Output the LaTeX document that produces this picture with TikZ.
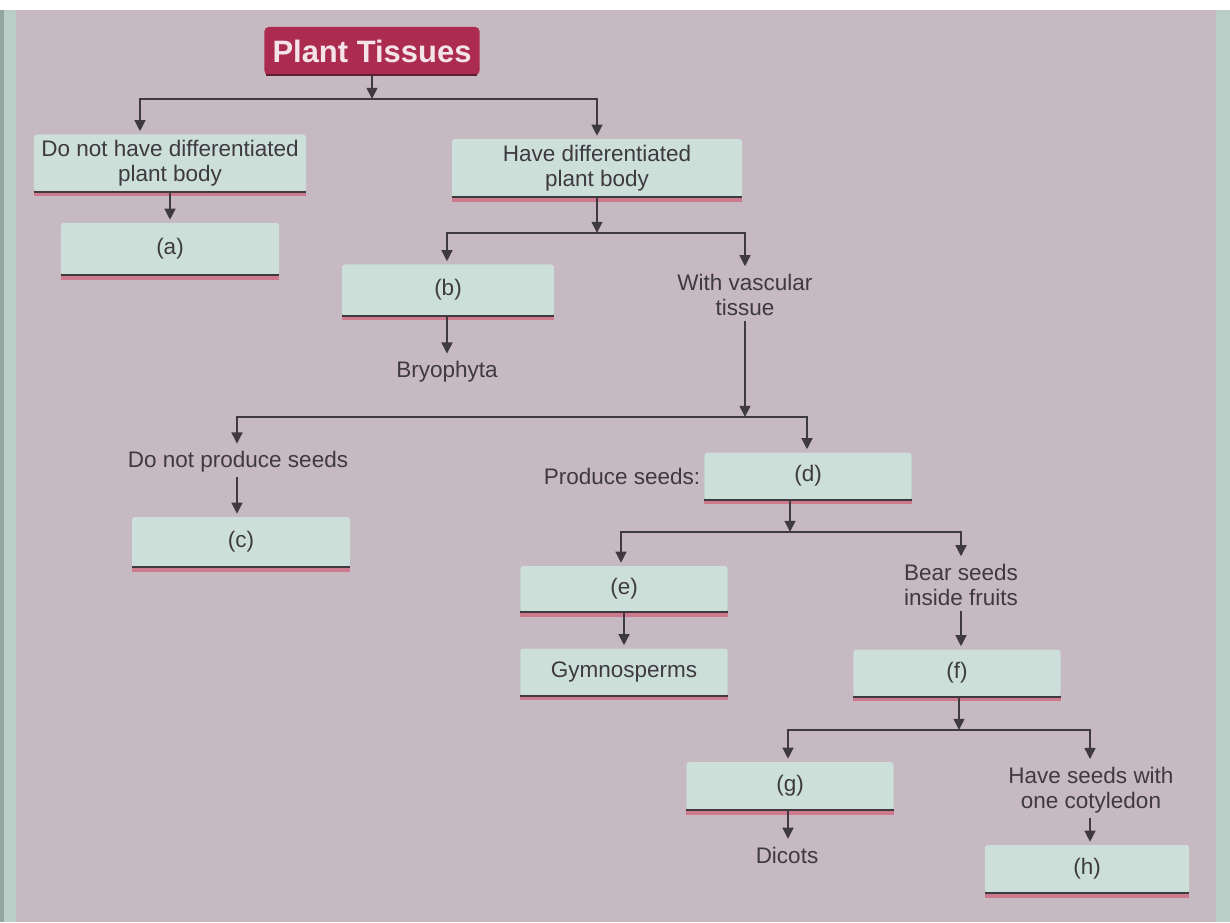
\documentclass[tikz,border=0pt]{standalone}
\usepackage{fontspec}
\setmainfont{Liberation Sans}
\usetikzlibrary{arrows.meta}

\definecolor{pagebg}{RGB}{198,185,193}
\definecolor{mint}{RGB}{204,223,217}
\definecolor{ptred}{RGB}{172,44,80}
\definecolor{ptdark}{RGB}{92,30,48}
\definecolor{ink}{RGB}{62,58,64}
\definecolor{rulepink}{RGB}{206,122,142}
\definecolor{edgecyan}{RGB}{186,206,200}

\tikzset{
  box/.style={fill=mint, rounded corners=2pt, minimum width=5.2cm, minimum height=1.2cm,
    text=ink, align=center, font=\fontsize{16}{17.8}\selectfont},
  lbl/.style={text=ink, align=center, font=\fontsize{16}{17.8}\selectfont},
  arr/.style={-{Triangle[width=7.5pt,length=8pt]}, line width=1.9pt, draw=ink, shorten >=2pt},
  fork/.style={{Triangle[width=7.5pt,length=8pt]}-{Triangle[width=7.5pt,length=8pt]},
    line width=1.9pt, draw=ink, shorten >=2pt, shorten <=2pt},
}

\begin{document}
\begin{tikzpicture}[x=0.025cm,y=-0.025cm]
      \useasboundingbox (0,0) rectangle (1230,922);
      % page
      \fill[pagebg] (0,0) rectangle (1230,922);
      \fill[white] (0,0) rectangle (1230,10);
      \fill[edgecyan] (0,10) rectangle (16,922);
      \fill[edgecyan!80!black] (0,10) rectangle (4,922);
      \fill[edgecyan] (1216,10) rectangle (1230,922);

      \node[fill=ptred, rounded corners=3pt, minimum width=5.375cm, minimum height=1.2cm,
        text={rgb,255:red,244;green,228;blue,233}, font=\fontsize{22}{26}\selectfont\bfseries] (pt) at (372,51) {Plant Tissues};
      \draw[line width=1.5pt, ptdark] ([xshift=1pt]pt.south west) -- ([xshift=-2pt]pt.south east);

      \node[box, minimum width=6.8cm, minimum height=1.425cm] (nohave) at (170,163) {Do not have differentiated\\plant body};
      \node[box, minimum width=7.25cm, minimum height=1.45cm] (have) at (597,168) {Have differentiated\\plant body};
      \node[box, minimum width=5.45cm, minimum height=1.3cm] (a) at (170,249) {(a)};
      \node[box, minimum width=5.3cm, minimum height=1.275cm] (b) at (448,290) {(b)};
      \node[lbl] (vasc) at (745,295) {With vascular\\tissue};
      \node[lbl] (bryo) at (447,372) {Bryophyta};

      \node[lbl] (noseeds) at (238,462) {Do not produce seeds};
      \node[box, minimum width=5.45cm, minimum height=1.25cm] (c) at (241,542) {(c)};
      \node[lbl] (prod) at (622,476) {Produce seeds:};
      \node[box, minimum width=5.175cm, minimum height=1.175cm] (d) at (808,476) {(d)};

      \node[box, minimum width=5.175cm, minimum height=1.15cm] (e) at (624,589) {(e)};
      \node[lbl] (bear) at (961,585) {Bear seeds\\inside fruits};
      \node[box, minimum width=5.175cm, minimum height=1.175cm] (gym) at (624,672) {Gymnosperms};
      \node[box, minimum width=5.175cm, minimum height=1.175cm] (f) at (957,673) {(f)};

      \node[box, minimum width=5.175cm, minimum height=1.2cm] (g) at (790,786) {(g)};
      \node[lbl] (cotyl) at (1091,790) {Have seeds with\\one cotyledon};
      \node[lbl] (dicots) at (787,855) {Dicots};
      \node[box, minimum width=5.1cm, minimum height=1.2cm] (h) at (1087,869) {(h)};

      % bottom rules of the boxes
      \foreach \n in {nohave,have,a,b,c,d,e,gym,f,g,h}{
        \draw[line width=2.4pt, rulepink] ([yshift=-2pt]\n.south west) -- ([yshift=-2pt]\n.south east);
        \draw[line width=1.4pt, ink] (\n.south west) -- (\n.south east);
      }

      \coordinate (j1) at (372,99);
      \coordinate (bar1l) at (140,99);
      \coordinate (bar1r) at (597,99);
      \coordinate (j2) at (597,233);
      \coordinate (bar2l) at (447,233);
      \coordinate (bar2r) at (745,233);
      \coordinate (j3) at (745,417);
      \coordinate (bar3l) at (237,417);
      \coordinate (bar3r) at (807,417);
      \coordinate (j4) at (790,532);
      \coordinate (bar4l) at (621,532);
      \coordinate (bar4r) at (961,532);
      \coordinate (j5) at (959,730);
      \coordinate (bar5l) at (788,730);
      \coordinate (bar5r) at (1090,730);

      \draw[arr, shorten >=0pt] (pt.south -| j1) -- (j1);
      \draw[fork] (bar1l |- nohave.north) -- (bar1l) -- (bar1r) -- (bar1r |- have.north);
      \draw[arr] (nohave.south) -- (a.north);

      \draw[arr, shorten >=0pt] (have.south -| j2) -- (j2);
      \draw[fork] (bar2l |- b.north) -- (bar2l) -- (bar2r) -- (bar2r |- vasc.north);
      \draw[arr] (b.south -| bar2l) -- (bryo.north -| bar2l);

      \draw[arr, shorten >=0pt] (vasc.south -| j3) -- (j3);
      \draw[fork] (bar3l |- noseeds.north) -- (bar3l) -- (bar3r) -- (bar3r |- d.north);
      \draw[arr] (noseeds.south -| bar3l) -- (c.north -| bar3l);

      \draw[arr, shorten >=0pt] (d.south -| j4) -- (j4);
      \draw[fork] (bar4l |- e.north) -- (bar4l) -- (bar4r) -- (bar4r |- bear.north);
      \draw[arr] (e.south) -- (gym.north);
      \draw[arr] (bear.south -| bar4r) -- (f.north -| bar4r);

      \draw[arr, shorten >=0pt] (f.south -| j5) -- (j5);
      \draw[fork] (bar5l |- g.north) -- (bar5l) -- (bar5r) -- (bar5r |- cotyl.north);
      \draw[arr] (g.south -| bar5l) -- (dicots.north -| bar5l);
      \draw[arr] (cotyl.south -| bar5r) -- (h.north -| bar5r);
    \end{tikzpicture}
\end{document}
